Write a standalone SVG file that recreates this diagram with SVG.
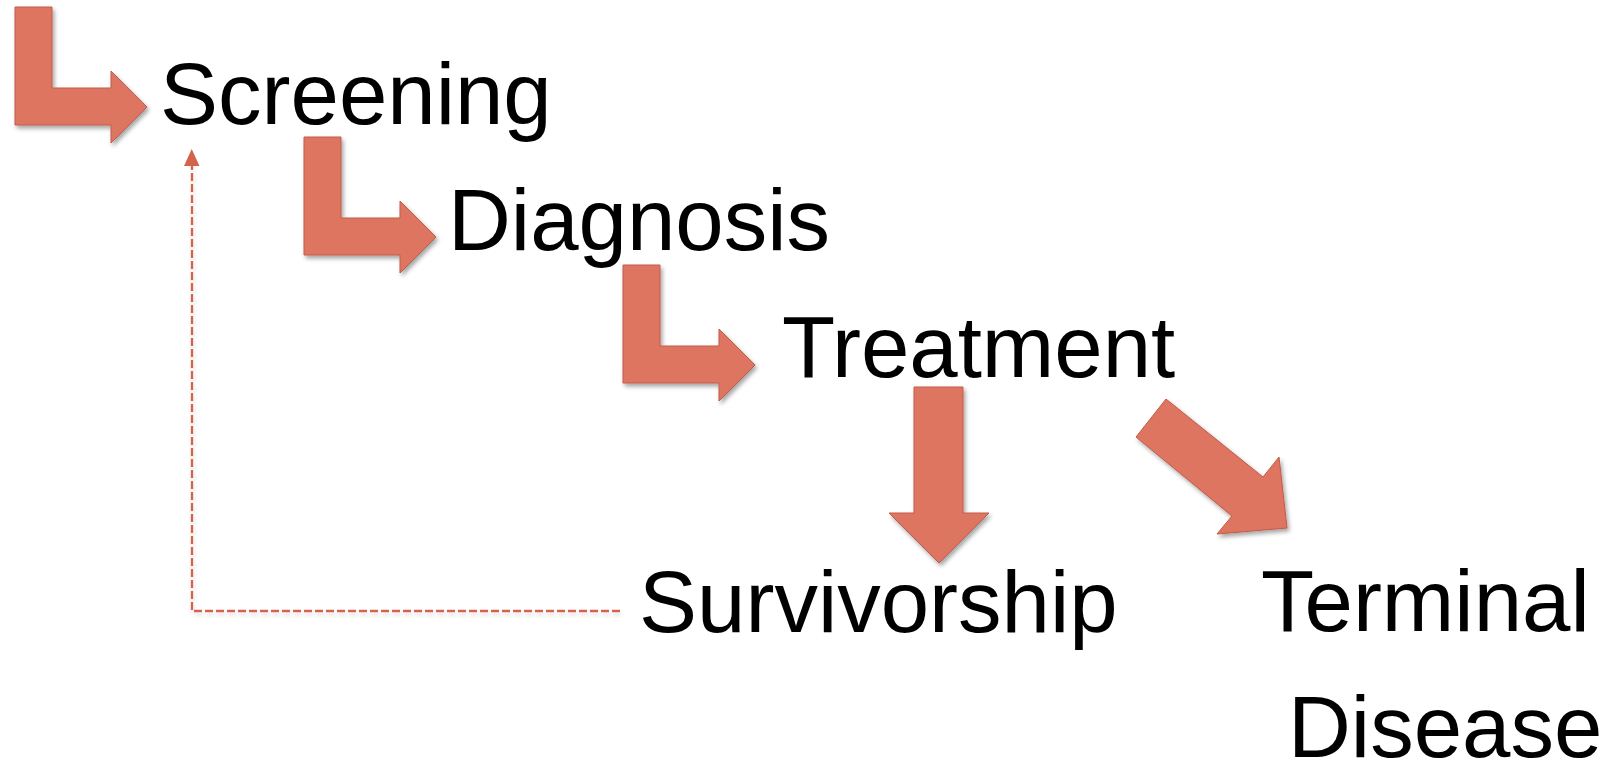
<svg xmlns="http://www.w3.org/2000/svg" width="1620" height="760" viewBox="0 0 1620 760">
  <style>
    .lbl { font-family: "Liberation Sans", Arial, sans-serif; font-size: 87px; fill: #000000; }
    .arrow { fill: #dd7561; stroke: #c25a48; stroke-width: 1; stroke-linejoin: miter; filter: url(#shadow); }
    .dash { fill: none; stroke: #d4634c; stroke-width: 2.3; stroke-dasharray: 8 3; filter: url(#shadowLight); }
  </style>
  <defs>
    <filter id="shadow" x="-20%" y="-20%" width="150%" height="150%">
      <feDropShadow dx="2" dy="3" stdDeviation="2" flood-color="#000000" flood-opacity="0.35"/>
    </filter>
    <filter id="shadowLight" x="-10%" y="-10%" width="130%" height="130%">
      <feDropShadow dx="1" dy="3" stdDeviation="2" flood-color="#000000" flood-opacity="0.15"/>
    </filter>
    <path id="bent" d="M15,7 H52 V88 H111 V71 L147,107 L111,143 V125 H15 Z"/>
    <marker id="head" markerWidth="16" markerHeight="17" refX="8" refY="1" orient="auto-start-reverse" markerUnits="userSpaceOnUse" viewBox="0 0 16 17">
      <polygon points="8,0 16,17 0,17" fill="#d4634c"/>
    </marker>
  </defs>

  <g id="connectors">
    <use href="#bent" class="arrow" id="arrow-start-screening"/>
    <use href="#bent" class="arrow" id="arrow-screening-diagnosis" transform="translate(289,130)"/>
    <use href="#bent" class="arrow" id="arrow-diagnosis-treatment" transform="translate(608,258)"/>
    <polygon id="arrow-treatment-survivorship" class="arrow" points="914,387 963,387 963,513 989,513 939,563 889,513 914,513"/>
    <polygon id="arrow-treatment-terminal" class="arrow" points="1136,437 1166,399 1263,477 1279,457 1287,528 1217,534 1232,516"/>
    <path id="arrow-survivorship-screening" class="dash" d="M620,611 H192 V166"/>
    <polygon points="191.7,149 184,166 199.5,166" fill="#d4634c"/>
  </g>

  <g id="node-screening"><text class="lbl" x="160" y="124">Screening</text></g>
  <g id="node-diagnosis"><text class="lbl" x="448" y="250">Diagnosis</text></g>
  <g id="node-treatment"><text class="lbl" x="782" y="377">Treatment</text></g>
  <g id="node-survivorship"><text class="lbl" x="639" y="632">Survivorship</text></g>
  <g id="node-terminal">
    <text class="lbl" x="1261" y="631">Terminal</text>
    <text class="lbl" x="1288" y="757">Disease</text>
  </g>
</svg>
